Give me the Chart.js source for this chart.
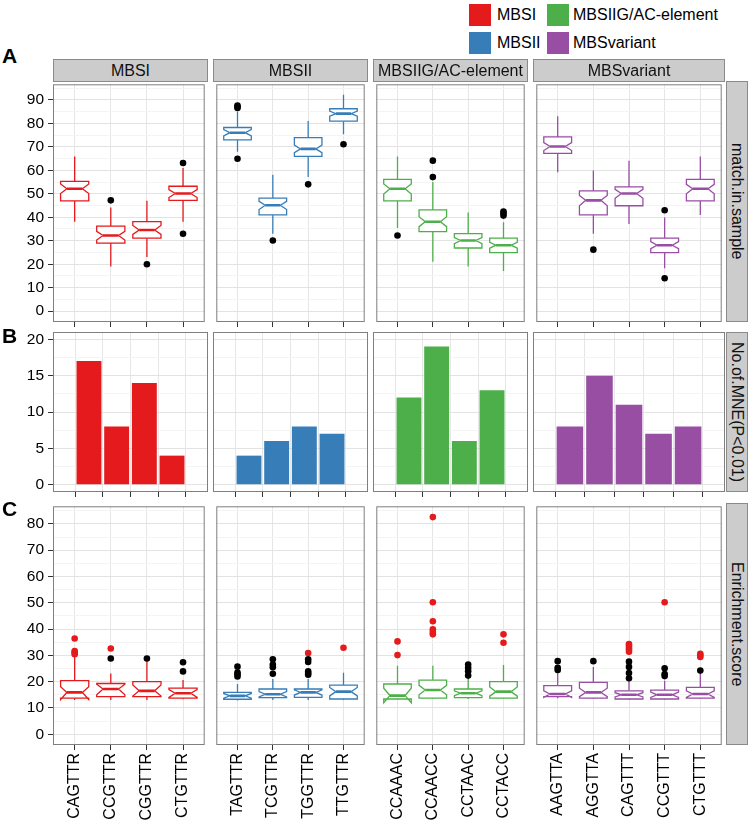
<!DOCTYPE html>
<html><head><meta charset="utf-8">
<script src="https://cdn.jsdelivr.net/npm/chart.js@4.4.0/dist/chart.umd.min.js"></script>
<style>
html,body{margin:0;padding:0;background:#fff;}
#wrap{position:relative;width:750px;height:826px;overflow:hidden;font-family:'Liberation Sans',Arial,sans-serif;color:#000;}
canvas.cv{position:absolute;}
.strip{position:absolute;background:#cccccc;border:1px solid #8a8a8a;box-sizing:border-box;display:flex;align-items:center;justify-content:center;font-size:16px;color:#111;white-space:nowrap;z-index:2;}
.vstrip{writing-mode:vertical-rl;}
.lab{position:absolute;font-weight:bold;font-size:21px;line-height:24px;z-index:2;}
.key{position:absolute;width:22px;height:22px;z-index:2;}
.ktxt{position:absolute;font-size:16px;line-height:22px;z-index:2;white-space:nowrap;}
</style></head>
<body><div id="wrap"></div>
<script>
// ---------------- DATA ----------------
const groups = ['MBSI','MBSII','MBSIIG/AC-element','MBSvariant'];
const groupColors = ['#E41A1C','#377EB8','#4DAF4A','#984EA3'];
const categories = ['CAGTTR','CCGTTR','CGGTTR','CTGTTR','TAGTTR','TCGTTR','TGGTTR','TTGTTR','CCAAAC','CCAACC','CCTAAC','CCTACC','AAGTTA','AGGTTA','CAGTTT','CCGTTT','CTGTTT'];
const categoryGroup = [0,0,0,0,1,1,1,1,2,2,2,2,3,3,3,3,3];
const rowTitles = ['match.in.sample','No.of.MNE(P<0.01)','Enrichment.score'];
const panelLetters = ['A','B','C'];

// Row A: match.in.sample (notched box plots)
const matchLow     = [38.1,19.0,23.1,38.1, 67.9,33.0,57.1,75.3, 35.4,21.1,19.0,17.1, 59.2,33.0,37.1,18.3,41.0];
const matchQ1      = [47.0,29.0,31.1,47.2, 72.9,41.0,65.9,80.9, 47.0,33.9,26.9,24.9, 67.2,41.0,44.9,24.9,47.0];
const matchMedian  = [52.1,32.2,34.6,50.1, 76.0,45.1,69.1,84.1, 52.1,38.1,30.1,28.1, 70.1,47.2,50.1,28.1,52.1];
const matchQ3      = [55.3,36.2,38.1,53.2, 78.2,48.1,73.9,86.2, 56.1,43.1,33.0,31.1, 74.2,51.2,52.9,31.1,56.1];
const matchHigh    = [65.9,44.2,47.0,61.0, 85.0,58.1,81.0,92.1, 65.9,55.0,42.0,37.9, 83.0,59.9,64.0,39.9,65.9];
const matchNotchLo = [50.1,30.3,32.7,48.4, 74.6,43.3,67.5,83.0, 49.9,36.0,28.8,26.8, 68.4,44.9,48.1,26.6,50.0];
const matchNotchHi = [54.2,34.0,36.5,51.8, 77.3,46.8,70.7,85.2, 54.2,40.2,31.3,29.3, 71.8,49.3,51.9,29.6,54.0];
const matchOutliers = [[],[47.2],[20.0],[63.1,33.0],[87.5,87.0,86.5,64.9],[30.1],[54.0],[71.1],[32.2],[64.1,57.1],[],[42.4,41.7,40.7],[],[26.2],[],[43.0,14.0],[]];

// Row B: No.of.MNE(P<0.01) (bars)
const mneCount = [17,8,14,4, 4,6,8,7, 12,19,6,13, 8,15,11,7,8];

// Row C: Enrichment.score (notched box plots)
const enrichLow     = [13.0,13.0,13.0,13.3, 12.8,13.0,13.0,13.0, 13.3,13.4,13.4,13.4, 13.7,13.4,13.2,13.2,13.4];
const enrichQ1      = [13.7,14.3,14.3,13.7, 13.3,13.9,14.0,13.4, 13.4,13.7,13.9,13.7, 14.3,13.7,13.4,13.4,13.7];
const enrichMedian  = [15.9,17.2,16.5,15.6, 14.6,15.2,15.9,16.2, 14.7,16.8,15.6,16.2, 15.3,15.9,15.0,15.0,15.3];
const enrichQ3      = [20.4,19.3,20.0,17.5, 15.9,17.2,17.2,18.7, 19.1,20.6,17.2,20.0, 18.5,19.7,16.5,16.8,17.8];
const enrichHigh    = [29.4,23.1,27.8,20.6, 19.1,21.0,21.0,23.4, 26.0,26.0,21.3,26.3, 23.1,25.6,20.2,20.3,23.1];
const enrichNotchLo = [13.2,15.0,14.5,14.0, 13.7,14.2,14.9,14.6, 12.0,15.0,14.7,14.5, 14.0,14.3,14.2,14.0,14.0];
const enrichNotchHi = [18.1,19.0,18.7,17.0, 15.5,16.2,16.9,17.8, 17.5,18.6,16.5,18.0, 16.5,17.5,15.8,16.0,16.5];
const enrichOutliers = [[],[28.8],[28.8],[27.4,23.9],[25.7,23.5,22.8,22.0],[28.5,26.5,25.5,23.0],[28.5,27.5,23.9,23.3,22.6],[],[],[],[26.5,25.3,24.0,22.3],[],[27.8,25.3,24.4],[27.8],[27.6,25.6,23.3,21.3],[25.1,22.9,22.1],[24.2]];
const enrichHighlighted = [[36.4,31.6,31.1,30.4],[32.6],[],[],[],[],[30.9],[32.9],[35.3,30.1],[82.6,50.2,43.0,39.9,38.9,38.0],[],[38.0,34.8],[],[],[34.3,33.7,32.9,32.2,31.4],[50.2],[30.6,30.0,29.4]];
const highlightColor = '#E41A1C';

// Axis ticks
const yTicksMatch  = [0,10,20,30,40,50,60,70,80,90];
const yMinorMatch  = [5,15,25,35,45,55,65,75,85,95];
const yTicksMNE    = [0,5,10,15,20];
const yMinorMNE    = [2.5,7.5,12.5,17.5];
const yTicksEnrich = [0,10,20,30,40,50,60,70,80];
const yMinorEnrich = [5,15,25,35,45,55,65,75,85];
const yRangeMatch  = [-4.6,96.6];
const yRangeMNE    = [-1,21];
const yRangeEnrich = [-4.1,86.7];

// ---------------- LAYOUT ----------------
const colLeft = [53,213,373,533], colRight = [208,368,528,725];
const rowTop = [81,332,503], rowBottom = [322,492,745];
const FONT = "'Liberation Sans', Arial, sans-serif";
Chart.defaults.font.family = FONT;
Chart.defaults.font.size = 16;
Chart.defaults.color = '#000';
Chart.defaults.animation = false;

const wrap = document.getElementById('wrap');
const statsA = {low:matchLow,q1:matchQ1,med:matchMedian,q3:matchQ3,high:matchHigh,nlo:matchNotchLo,nhi:matchNotchHi};
const statsC = {low:enrichLow,q1:enrichQ1,med:enrichMedian,q3:enrichQ3,high:enrichHigh,nlo:enrichNotchLo,nhi:enrichNotchHi};
const majorsByRow = [yTicksMatch,yTicksMNE,yTicksEnrich];
const minorsByRow = [yMinorMatch,yMinorMNE,yMinorEnrich];
const rangeByRow  = [yRangeMatch,yRangeMNE,yRangeEnrich];

function drawBox(ctx, xs, ys, k, i, S, color){
  const xc = xs.getPixelForValue(k+1);
  const unit = xs.getPixelForValue(2) - xs.getPixelForValue(1);
  const hw = unit*0.78/2, ind = hw*0.45;
  const xmin = xc-hw, xmax = xc+hw;
  const Y = v => ys.getPixelForValue(v);
  ctx.save();
  ctx.strokeStyle = color; ctx.lineWidth = 1.3; ctx.lineJoin='miter';
  ctx.beginPath();
  ctx.moveTo(xc, Y(S.q3[i])); ctx.lineTo(xc, Y(S.high[i]));
  ctx.moveTo(xc, Y(S.q1[i])); ctx.lineTo(xc, Y(S.low[i]));
  ctx.stroke();
  ctx.beginPath();
  ctx.moveTo(xmin, Y(S.q3[i])); ctx.lineTo(xmin, Y(S.nhi[i])); ctx.lineTo(xmin+ind, Y(S.med[i]));
  ctx.lineTo(xmin, Y(S.nlo[i])); ctx.lineTo(xmin, Y(S.q1[i])); ctx.lineTo(xmax, Y(S.q1[i]));
  ctx.lineTo(xmax, Y(S.nlo[i])); ctx.lineTo(xmax-ind, Y(S.med[i])); ctx.lineTo(xmax, Y(S.nhi[i]));
  ctx.lineTo(xmax, Y(S.q3[i])); ctx.closePath();
  ctx.fillStyle = '#fff'; ctx.fill(); ctx.stroke();
  ctx.lineWidth = 2.6;
  ctx.beginPath(); ctx.moveTo(xmin+ind, Y(S.med[i])); ctx.lineTo(xmax-ind, Y(S.med[i])); ctx.stroke();
  ctx.restore();
}

function makePanel(r, g){
  const idx = categories.map((c,i)=>i).filter(i=>categoryGroup[i]===g);
  const localCats = idx.map(i=>categories[i]);
  const n = localCats.length;
  const color = groupColors[g];
  const left = g===0 ? 0 : colLeft[g];
  const width = colRight[g] - left;
  const top = rowTop[r];
  const bottom = r===2 ? 826 : rowBottom[r] + 5;
  const height = bottom - top;
  const cv = document.createElement('canvas');
  cv.className = 'cv';
  cv.width = width; cv.height = height;
  cv.style.left = left+'px'; cv.style.top = top+'px';
  cv.style.width = width+'px'; cv.style.height = height+'px';
  wrap.appendChild(cv);

  const majors = majorsByRow[r], minors = minorsByRow[r];
  const allTicks = majors.concat(minors).sort((a,b)=>a-b);
  const isMajor = v => majors.indexOf(v) >= 0;

  let datasets;
  if (r === 1) {
    datasets = [{
      data: idx.map((i,k)=>({x:k+1, y:mneCount[i]})),
      backgroundColor: color, borderWidth: 0,
      barPercentage: 0.9, categoryPercentage: 1
    }];
  } else {
    const outs = r===0 ? matchOutliers : enrichOutliers;
    const black = [], red = [];
    idx.forEach((i,k)=>{
      outs[i].forEach(v=>black.push({x:k+1,y:v}));
      if (r===2) enrichHighlighted[i].forEach(v=>red.push({x:k+1,y:v}));
    });
    datasets = [
      {data: black, backgroundColor:'#000', pointRadius:3.3, pointBorderWidth:0, pointHoverRadius:3.3},
      {data: red, backgroundColor: highlightColor, pointRadius:3.3, pointBorderWidth:0, pointHoverRadius:3.3}
    ];
  }

  const S = r===0 ? statsA : statsC;
  const plugin = {
    id: 'panel'+r+'_'+g,
    beforeDatasetsDraw(chart){
      if (r === 1) return;
      const a = chart.chartArea, ctx = chart.ctx;
      ctx.save();
      ctx.beginPath(); ctx.rect(a.left, a.top, a.right-a.left, a.bottom-a.top); ctx.clip();
      idx.forEach((i,k)=>drawBox(ctx, chart.scales.x, chart.scales.y, k, i, S, color));
      ctx.restore();
    },
    afterDraw(chart){
      const a = chart.chartArea, ctx = chart.ctx;
      ctx.save();
      ctx.strokeStyle = '#7f7f7f'; ctx.lineWidth = 1;
      ctx.strokeRect(a.left+0.5, a.top+0.5, a.right-a.left-1, a.bottom-a.top-1);
      ctx.restore();
    }
  };

  new Chart(cv, {
    type: r===1 ? 'bar' : 'scatter',
    data: {datasets},
    plugins: [plugin],
    options: {
      responsive: false, devicePixelRatio: 1, animation: false,
      layout: {padding: 0},
      plugins: {legend:{display:false}, tooltip:{enabled:false}},
      events: [],
      scales: {
        x: {
          type: 'linear', min: 0.4, max: n + 0.6,
          afterBuildTicks: s => { s.ticks = localCats.map((c,k)=>({value:k+1})); },
          ticks: {
            display: r===2, autoSkip: false, minRotation: 90, maxRotation: 90, padding: 3,
            font: {size: 16, family: FONT}, color: '#000',
            callback: v => localCats[Math.round(v)-1] || ''
          },
          grid: {color:'#e6e6e6', lineWidth:1, drawTicks:true, tickLength:5, tickColor:'#333', tickWidth:1},
          border: {display:false},
          afterFit: s => { s.height = bottom - rowBottom[r]; s.paddingLeft = 0; s.paddingRight = 0; }
        },
        y: {
          type: 'linear', min: rangeByRow[r][0], max: rangeByRow[r][1],
          afterBuildTicks: s => { s.ticks = allTicks.map(v=>({value:v})); },
          ticks: {
            display: g===0, padding: 4, autoSkip: false,
            font: {size: 15.5, family: FONT}, color: '#000',
            callback: v => isMajor(v) ? String(v) : ''
          },
          grid: {
            color: c => (c.tick && isMajor(c.tick.value)) ? '#e3e3e3' : '#f4f4f4',
            lineWidth: 1,
            drawTicks: g===0, tickLength: 5,
            tickColor: c => (c.tick && isMajor(c.tick.value)) ? '#333' : 'rgba(0,0,0,0)',
            tickWidth: c => (c.tick && isMajor(c.tick.value)) ? 1 : 0
          },
          border: {display:false},
          afterFit: s => { s.width = g===0 ? colLeft[0] : 0; s.paddingTop = 0; s.paddingBottom = 0; }
        }
      }
    }
  });
}

for (let r=0; r<3; r++) for (let g=0; g<4; g++) makePanel(r, g);

// Top facet strips
groups.forEach((name,g)=>{
  const d = document.createElement('div');
  d.className = 'strip';
  d.style.left = colLeft[g]+'px'; d.style.top = '59px';
  d.style.width = (colRight[g]-colLeft[g])+'px'; d.style.height = '23px';
  d.textContent = name;
  wrap.appendChild(d);
});
// Right row strips
rowTitles.forEach((name,r)=>{
  const d = document.createElement('div');
  d.className = 'strip vstrip';
  d.style.left = '726px'; d.style.top = rowTop[r]+'px';
  d.style.width = '22px'; d.style.height = (rowBottom[r]-rowTop[r])+'px';
  d.textContent = name;
  wrap.appendChild(d);
});
// Panel letters
const letterCenters = [56, 336, 509];
panelLetters.forEach((L,r)=>{
  const d = document.createElement('div');
  d.className = 'lab';
  d.style.left = '2px'; d.style.top = (letterCenters[r]-12)+'px';
  d.textContent = L;
  wrap.appendChild(d);
});
// Legend
const legendOrder = [0,2,1,3];
const keyX = [469,547], keyY = [4,32], txtX = [497,573];
legendOrder.forEach((g,j)=>{
  const col = j % 2, row = Math.floor(j/2);
  const k = document.createElement('div');
  k.className = 'key';
  k.style.left = keyX[col]+'px'; k.style.top = keyY[row]+'px';
  k.style.background = groupColors[g];
  wrap.appendChild(k);
  const t = document.createElement('div');
  t.className = 'ktxt';
  t.style.left = txtX[col]+'px'; t.style.top = keyY[row]+'px';
  t.textContent = groups[g];
  wrap.appendChild(t);
});
</script>
</body></html>
